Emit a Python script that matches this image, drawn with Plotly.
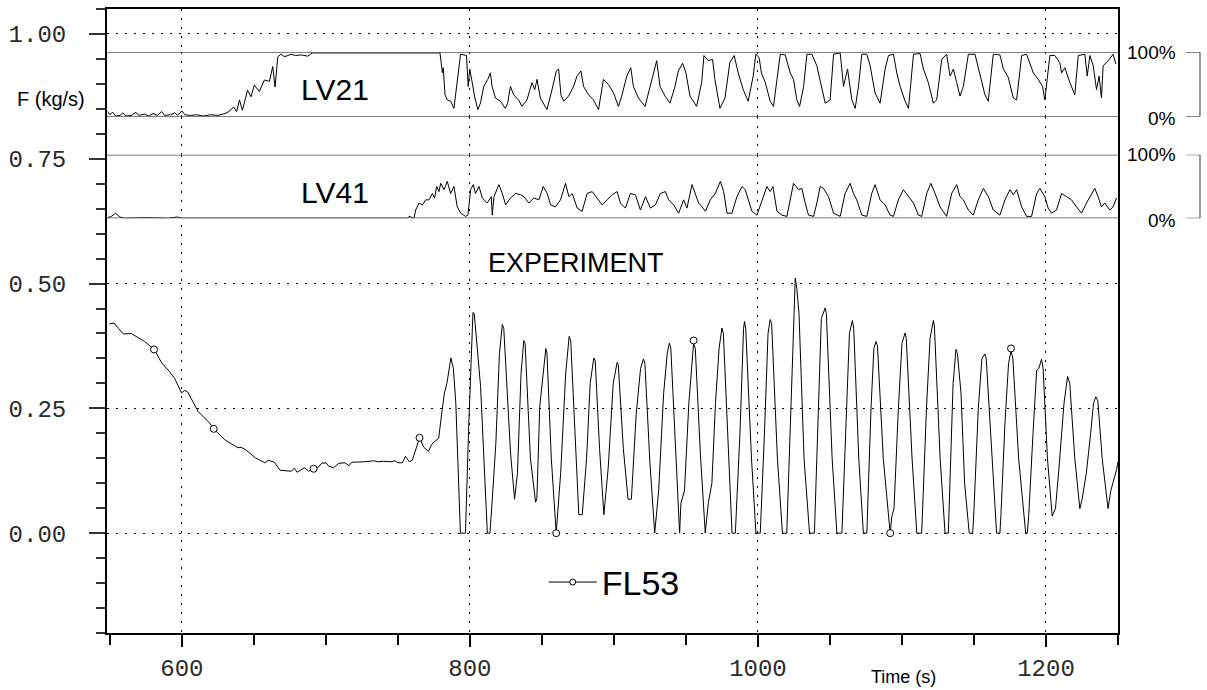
import plotly.graph_objects as go

# ---------------- data ----------------
# FL53 flow (kg/s) vs time (s)
fl53_t = [549.7, 552.8, 556, 559.4, 564.8, 569, 574.1, 580.7, 586, 591.3, 595, 599.8, 602, 604, 611.2, 619.1,
          622.1, 629.8, 635, 639, 641, 644.3, 651, 657.6, 660, 664.2, 668.2, 676.1, 678, 680, 682.8, 685, 688,
          691.5, 694, 697, 700.1, 702, 705.3, 709, 713.3, 716, 718, 721.3, 727, 733.2, 736, 740, 745.1, 748, 750,
          753.1, 755.2, 757.9, 760, 765, 768, 771.2, 773.5, 775.7, 778.3, 780, 782.3, 784, 786.8, 788.5, 790.2,
          793.4, 796.9, 799, 802.1, 803, 807.4, 812.1, 813.9, 815.5, 818, 820.5, 822.5, 823.5, 828.2, 831, 833,
          835.5, 837.4, 838.3, 842, 845.6, 846.5, 848.5, 852.7, 853.5, 856.5, 859.9, 863, 866.5, 868.9, 870,
          873.5, 875.6, 878, 881, 883.5, 886, 887, 890, 893, 896, 899.5, 902.2, 903, 906.5, 909.8, 912.1, 915.5,
          918.5, 920.5, 921.5, 925, 928.3, 931.1, 934.5, 937, 938.5, 939.5, 943, 945.6, 946.5, 949, 952, 955.3,
          956.5, 960, 963.4, 965.5, 968, 970.5, 973, 975, 976, 979.5, 982, 984.3, 987.5, 990, 990.7, 991.5,
          995.5, 998.6, 1001.6, 1004.5, 1007, 1008.5, 1009.5, 1013.5, 1017, 1020, 1023.5, 1025.9, 1027, 1028.5,
          1032, 1035.8, 1039.2, 1042.5, 1044, 1046.7, 1047.5, 1051.5, 1054.8, 1058.3, 1061.5, 1063.5, 1065.6,
          1066.5, 1070, 1073.2, 1075.6, 1078.5, 1080.5, 1082, 1083, 1087, 1091.8, 1093, 1094.5, 1097.5, 1100,
          1102.1, 1103, 1107, 1110.3, 1113.7, 1117, 1119.5, 1121.8, 1122.5, 1126.5, 1129.9, 1132.2, 1135.5,
          1137.5, 1138.5, 1141, 1143.5, 1146.7, 1149.1, 1150, 1153, 1155.5, 1157.6, 1158.5, 1162.5, 1165.7,
          1168, 1168.7, 1171.5, 1174, 1175.7, 1177, 1181, 1185.9, 1187, 1188, 1191, 1193.5, 1195, 1196.9, 1198,
          1201, 1204.3, 1206.6, 1209, 1212.5, 1215, 1216.5, 1220, 1223.5, 1225, 1228, 1231, 1233, 1234.6, 1236,
          1239, 1243.1, 1245, 1246.6, 1249, 1250]
fl53_v = [0.419, 0.421, 0.41, 0.399, 0.400, 0.392, 0.384, 0.368, 0.341, 0.324, 0.31, 0.281, 0.286, 0.283, 0.244,
          0.221, 0.209, 0.187, 0.178, 0.171, 0.172, 0.167, 0.151, 0.141, 0.146, 0.142, 0.126, 0.124, 0.13, 0.122,
          0.127, 0.131, 0.124, 0.129, 0.13, 0.14, 0.141, 0.134, 0.131, 0.14, 0.141, 0.135, 0.142, 0.142, 0.143,
          0.145, 0.143, 0.144, 0.143, 0.145, 0.141, 0.141, 0.154, 0.143, 0.146, 0.191, 0.172, 0.164, 0.178, 0.184,
          0.19, 0.23, 0.281, 0.30, 0.351, 0.33, 0.261, 0.0, 0.0, 0.2, 0.442, 0.44, 0.294, 0.0, 0.0, 0.067, 0.18,
          0.36, 0.418, 0.41, 0.161, 0.068, 0.12, 0.32, 0.386, 0.38, 0.15, 0.062, 0.07, 0.254, 0.370, 0.36, 0.15,
          0.0, 0.12, 0.32, 0.394, 0.385, 0.15, 0.037, 0.037, 0.15, 0.3, 0.351, 0.345, 0.17, 0.037, 0.13, 0.3,
          0.342, 0.338, 0.17, 0.068, 0.068, 0.24, 0.33, 0.349, 0.34, 0.14, 0.0, 0.087, 0.28, 0.36, 0.381, 0.37,
          0.14, 0.0, 0.06, 0.085, 0.26, 0.38, 0.37, 0.16, 0.0, 0.06, 0.1, 0.26, 0.37, 0.411, 0.40, 0.15, 0.0, 0.0,
          0.2, 0.41, 0.424, 0.41, 0.15, 0.0, 0.0, 0.2, 0.4, 0.428, 0.42, 0.15, 0.0, 0.0, 0.3, 0.511, 0.49, 0.44,
          0.15, 0.0, 0.0, 0.3, 0.43, 0.451, 0.44, 0.15, 0.0, 0.0, 0.25, 0.40, 0.426, 0.41, 0.15, 0.0, 0.0, 0.25,
          0.37, 0.384, 0.375, 0.15, 0.0, 0.034, 0.05, 0.25, 0.38, 0.401, 0.39, 0.15, 0.0, 0.0, 0.25, 0.39, 0.426,
          0.415, 0.15, 0.0, 0.0, 0.3, 0.368, 0.36, 0.28, 0.1, 0.0, 0.0, 0.047, 0.25, 0.35, 0.359, 0.35, 0.15, 0.0,
          0.0, 0.035, 0.22, 0.34, 0.365, 0.35, 0.15, 0.0, 0.0, 0.035, 0.2, 0.326, 0.33, 0.348, 0.33, 0.15, 0.034,
          0.05, 0.13, 0.26, 0.314, 0.30, 0.15, 0.049, 0.067, 0.12, 0.2, 0.26, 0.273, 0.265, 0.15, 0.049, 0.085,
          0.1, 0.127, 0.143]

# FL53 symbol positions
mark_t = [580.7, 622.1, 691.5, 765.0, 859.9, 955.3, 1091.8, 1175.7]
mark_v = [0.368, 0.209, 0.129, 0.191, 0.0, 0.386, 0.0, 0.370]

# LV21 valve opening (%)
lv21_t = [548.5, 550, 552, 554, 557, 559, 561, 565, 568, 570, 574, 577, 580, 583, 586, 588, 592, 595, 597, 600,
          602, 606, 610, 615, 620, 625, 630, 632, 636, 638, 640, 642, 645.6, 648, 650.3, 653.8, 657.3, 660.8,
          663.1, 664.7, 666.6, 668.9, 671.2, 675.9, 679, 682.8, 687.4, 689.7, 690.5, 779.2,
          780.9, 781.5, 782.7, 784.3, 786.6, 788.9, 791.2, 793.5, 795.8, 797.6, 798.8, 799.9, 801.6, 803.2, 805.5,
          807.3, 809.6, 812.4, 814.2, 815.4, 817.7, 821.2, 824.6, 826.2, 828.1, 830.4, 833.8, 836.1, 839.6, 843.1,
          845, 846.6, 848.9, 853.5, 857, 860, 861.6, 863.2, 865.1, 868.5, 872, 874.3, 877.1, 878.9, 882.4, 885.8,
          889.3, 892.7, 896.2, 899.7, 903.1, 905.4, 908.9, 911.7, 913.5, 917, 921.6, 925.1, 927.4, 929.7, 932,
          935.5, 938.9, 942.4, 944.7, 947.7, 950, 952.8, 957.4, 960.9, 962.5, 965.5, 968.5, 970.1, 973.6, 977.1,
          980.5, 983.5, 986.3, 989.8, 993.2, 996.7, 998.5, 1000.8, 1002.4,
          1005.1, 1008.5, 1010.8, 1013.2, 1015.5, 1018.9, 1022.4, 1024.7, 1027, 1028.9, 1031.7, 1034, 1037.4,
          1040.9, 1044.4, 1046.7, 1050.1, 1052.5, 1057.1, 1059.4, 1062.2, 1065.2, 1067.5, 1069.8, 1072.1, 1075.6,
          1077.9, 1081.3, 1084.8, 1088.3, 1090.6, 1094.1, 1096.4, 1098.7, 1102.2, 1104.5, 1108, 1112.6, 1114.9,
          1118.3, 1121.8, 1124.1, 1127.6, 1131, 1133.4, 1135.7, 1138, 1140.3, 1142.6, 1146.1, 1150.7, 1154.2,
          1157.6, 1159.9, 1163.4, 1168, 1170.4, 1173.8, 1177.3, 1179.6, 1183.1, 1186.5, 1188.8, 1191.2, 1194.6,
          1197.6, 1199.2, 1200.4, 1202.7, 1206.2, 1209.6, 1210.8, 1213.1, 1216.6, 1220, 1222.4, 1227, 1228.6,
          1230.5, 1232.8, 1235.1, 1236.9, 1238.5, 1239.7, 1243.2, 1246.6, 1248.5]
lv21_p = [8, 3, 7, 1, 2, 6, 1, 2, 7, 2, 4, 1, 5, 2, 8, 2, 3, 6, 2, 9,
          3, 2, 3, 1, 3, 2, 5, 7, 15, 8, 26, 10, 41, 31, 49, 39, 57, 55,
          78, 46, 93, 97, 93, 97, 95, 96, 94, 97, 99, 99,
          68, 76, 34, 26, 24, 13, 58, 97, 96, 95, 47, 74, 53, 32, 11,
          21, 47, 58, 68, 47, 29, 24, 13, 21, 47, 34, 26, 16, 26, 53,
          42, 58, 29, 11, 42, 71, 74, 34, 24, 32, 47, 63, 71, 47, 34, 26,
          11, 58, 50, 37, 16, 32, 63, 76, 47, 29, 16, 47, 63, 87, 47,
          32, 21, 47, 71, 83, 68, 32, 16, 53, 95, 87, 89, 58, 13, 29,
          84, 95, 68, 42, 24, 63, 97, 92, 68,
          53, 24, 16, 58, 97, 96, 68, 58, 26, 16, 47, 97, 97,
          79, 42, 21, 26, 97, 99, 47, 74, 26, 13, 47, 97, 97,
          79, 37, 21, 74, 95, 97, 68, 47, 24, 13, 97, 98, 74,
          53, 21, 26, 89, 97, 63, 74, 53, 32, 47, 97, 97, 63,
          34, 24, 97, 96, 74, 61, 29, 26, 95, 97, 84, 68, 58,
          47, 26, 47, 95, 95, 84, 68, 76, 53, 34, 95, 97, 63,
          95, 79, 42, 63, 29, 79, 87, 97, 82]

# LV41 valve opening (%)
lv41_t = [548.5, 551, 554, 557, 560, 575, 590, 597, 600, 640, 700, 756.6,
          757.7, 761.2, 762.3, 764.7, 767.0, 769.3, 771.6, 773.9, 775.5, 776.9, 778.5, 779.7, 782.0, 784.3,
          786.6, 788.9, 791.2, 793.6, 797.0, 798.6, 800.5, 802.3, 803.9, 806.3, 808.6, 812.0, 814.8, 815.5,
          816.7, 820.1, 822.5, 824.8, 828.2, 831.7, 835.2, 837.5, 840.9, 844.4, 847.9, 850.9, 853.7, 856.0,
          859.4, 862.9, 866.4, 868.7, 871.0, 874.5, 877.9, 881.4, 884.9, 888.3, 891.8, 895.3, 898.7, 902.2,
          904.5, 908.0, 911.4, 914.9, 918.4, 921.9, 925.3, 928.8, 932.2, 935.7, 938.0, 941.5, 944.9, 948.4,
          950.7, 954.2, 956.5, 958.8, 961.2, 963.5, 966.9, 970.4, 973.9, 976.2, 978.5, 981.9, 985.4, 988.9,
          991.2, 993.5, 995.8, 999.3,
          1002.8, 1006.2, 1008.5, 1010.4, 1013.2, 1016.6, 1020.1, 1022.4, 1024.7, 1028.2, 1030.5, 1032.8,
          1035.1, 1038.6, 1040.9, 1043.2, 1045.5, 1049.0, 1052.5, 1057.1, 1060.5, 1064.0, 1066.3, 1068.6,
          1072.1, 1075.6, 1079.0, 1081.3, 1084.8, 1088.3, 1091.7, 1094.1, 1097.5, 1101.0, 1104.5, 1108.0,
          1111.4, 1113.7, 1117.2, 1120.0, 1123.0, 1126.4, 1131.0, 1134.5, 1138.0, 1140.3, 1142.6, 1146.1,
          1149.5, 1153.0, 1156.5, 1160.0, 1163.4, 1168.0, 1171.5, 1175.0, 1177.3, 1179.6, 1183.1, 1186.5,
          1190.0, 1193.5, 1195.8, 1199.2, 1201.5, 1203.9, 1207.3, 1210.8, 1214.3, 1217.7, 1221.2, 1224.7,
          1228.1, 1231.6, 1233.9, 1236.2, 1238.5, 1240.8, 1244.3, 1246.6, 1249.0]
lv41_p = [1, 3, 8, 2, 0, 1, 0, 2, 0, 0, 0, 0,
          3, 0, 13, 24, 21, 29, 29, 39, 32, 50, 42, 55, 45, 58,
          39, 50, 18, 8, 3, 5, 45, 53, 39, 50, 32, 24, 34, 5,
          34, 53, 39, 21, 32, 39, 37, 34, 24, 32, 29, 50, 39, 21,
          18, 29, 55, 34, 39, 16, 11, 39, 42, 32, 21, 29, 37, 42,
          24, 16, 39, 37, 13, 34, 16, 21, 39, 42, 29, 21, 8, 29,
          16, 53, 39, 24, 18, 11, 29, 39, 58, 42, 8, 8, 34, 50,
          45, 29, 11, 5,
          29, 50, 42, 50, 11, 5, 3, 29, 55, 45, 47, 24,
          5, 3, 24, 50, 47, 34, 8, 3, 39, 55, 39, 29,
          5, 3, 39, 53, 29, 21, 5, 3, 29, 45, 34, 24,
          5, 3, 39, 55, 39, 18, 3, 39, 53, 34, 29, 13,
          5, 29, 47, 34, 13, 5, 29, 45, 37, 45, 18, 3,
          3, 39, 47, 34, 16, 8, 13, 39, 34, 29, 18, 8,
          24, 39, 47, 34, 18, 24, 13, 18, 32]

x_tick_vals = [600, 800, 1000, 1200]
y_tick_vals = [0.0, 0.25, 0.5, 0.75, 1.0]

# ---------------- figure ----------------
AX_FONT = dict(family="Liberation Mono, DejaVu Sans Mono, monospace", size=24, color="#2a2a2a")
TXT = "Arial, Liberation Sans, sans-serif"

fig = go.Figure()

fig.add_trace(go.Scatter(x=lv21_t, y=lv21_p, yaxis="y2", mode="lines",
                         line=dict(color="black", width=1), showlegend=False, hoverinfo="skip"))
fig.add_trace(go.Scatter(x=lv41_t, y=lv41_p, yaxis="y3", mode="lines",
                         line=dict(color="black", width=1), showlegend=False, hoverinfo="skip"))
fig.add_trace(go.Scatter(x=fl53_t, y=fl53_v, mode="lines",
                         line=dict(color="black", width=1), showlegend=False))
fig.add_trace(go.Scatter(x=mark_t, y=mark_v, mode="markers",
                         marker=dict(symbol="circle", size=7, color="white",
                                     line=dict(color="black", width=1)),
                         showlegend=False))
fig.add_trace(go.Scatter(x=[None], y=[None], mode="lines+markers", name="FL53",
                         line=dict(color="black", width=1),
                         marker=dict(symbol="circle", size=6, color="white",
                                     line=dict(color="black", width=1))))

dot = "2px,7px"
fig.update_layout(
    width=1207, height=690,
    margin=dict(l=107, r=89, t=9, b=57, autoexpand=False),
    paper_bgcolor="white", plot_bgcolor="white",
    xaxis=dict(range=[548, 1250], tickmode="array", tickvals=x_tick_vals, automargin=False,
               ticks="outside", ticklen=12, tickwidth=1.5, tickcolor="black",
               showgrid=True, gridcolor="black", gridwidth=1, griddash=dot,
               minor=dict(tick0=550, dtick=50, ticks="outside", ticklen=10, tickwidth=1.5,
                          tickcolor="black", showgrid=False),
               showline=True, linecolor="black", linewidth=2, mirror=True, zeroline=False,
               tickfont=AX_FONT, ticklabelstandoff=0),
    yaxis=dict(range=[-0.2, 1.05], tickmode="array", tickvals=y_tick_vals, tickformat=".2f",
               automargin=False,
               ticks="outside", ticklen=16, tickwidth=1.5, tickcolor="#333",
               showgrid=True, gridcolor="black", gridwidth=1, griddash=dot,
               minor=dict(tick0=0, dtick=0.05, ticks="outside", ticklen=9, tickwidth=1.5,
                          tickcolor="#333", showgrid=False),
               showline=True, linecolor="black", linewidth=2, mirror=True, zeroline=False,
               tickfont=AX_FONT, ticklabelstandoff=18),
    yaxis2=dict(domain=[0.8274, 0.9306], range=[0, 100], anchor="x", visible=False,
                showgrid=False, zeroline=False, automargin=False),
    yaxis3=dict(domain=[0.6646, 0.7665], range=[0, 100], anchor="x", visible=False,
                showgrid=False, zeroline=False, automargin=False),
    legend=dict(x=0.432, y=0.081, xanchor="left", yanchor="middle", itemwidth=48,
                font=dict(family=TXT, size=34, color="black"),
                bgcolor="rgba(0,0,0,0)", borderwidth=0),
    showlegend=True,
)

# strip boundary lines and right-hand brackets
shapes = []
for yr in ("y2", "y3"):
    for lvl in (0, 100):
        shapes.append(dict(type="line", xref="paper", yref=yr, x0=0, x1=1, y0=lvl, y1=lvl,
                           line=dict(color="#555", width=1.5)))
    bx0, bx1 = 1.0673, 1.0811
    shapes.append(dict(type="line", xref="paper", yref=yr, x0=bx0, x1=bx1, y0=100, y1=100,
                       line=dict(color="#333", width=1)))
    shapes.append(dict(type="line", xref="paper", yref=yr, x0=bx1, x1=bx1, y0=100, y1=0,
                       line=dict(color="#333", width=1)))
    shapes.append(dict(type="line", xref="paper", yref=yr, x0=bx0, x1=bx1, y0=0, y1=0,
                       line=dict(color="#333", width=1)))
fig.update_layout(shapes=shapes)

ann = [
    dict(text="F (kg/s)", xref="paper", yref="paper", x=-0.0554, y=0.8558, showarrow=False,
         xanchor="center", yanchor="middle", font=dict(family=TXT, size=20, color="black")),
    dict(text="LV21", xref="x", yref="y2", x=706, y=43, showarrow=False,
         xanchor="center", yanchor="middle", font=dict(family=TXT, size=30, color="black")),
    dict(text="LV41", xref="x", yref="y3", x=706, y=41, showarrow=False,
         xanchor="center", yanchor="middle", font=dict(family=TXT, size=30, color="black")),
    dict(text="EXPERIMENT", xref="x", yref="y", x=873.7, y=0.542, showarrow=False,
         xanchor="center", yanchor="middle", font=dict(family=TXT, size=27, color="black")),
    dict(text="Time (s)", xref="paper", yref="paper", x=0.788, y=-0.0705, showarrow=False,
         xanchor="center", yanchor="middle", font=dict(family=TXT, size=18, color="black")),
]
for yr in ("y2", "y3"):
    ann.append(dict(text="100%", xref="paper", yref=yr, x=1.0593, y=100, showarrow=False,
                    xanchor="right", yanchor="middle", font=dict(family=TXT, size=19, color="black")))
    ann.append(dict(text="0%", xref="paper", yref=yr, x=1.0593, y=0, yshift=-2, showarrow=False,
                    xanchor="right", yanchor="middle", font=dict(family=TXT, size=19, color="black")))
fig.update_layout(annotations=ann)

fig.write_html("out.html")
